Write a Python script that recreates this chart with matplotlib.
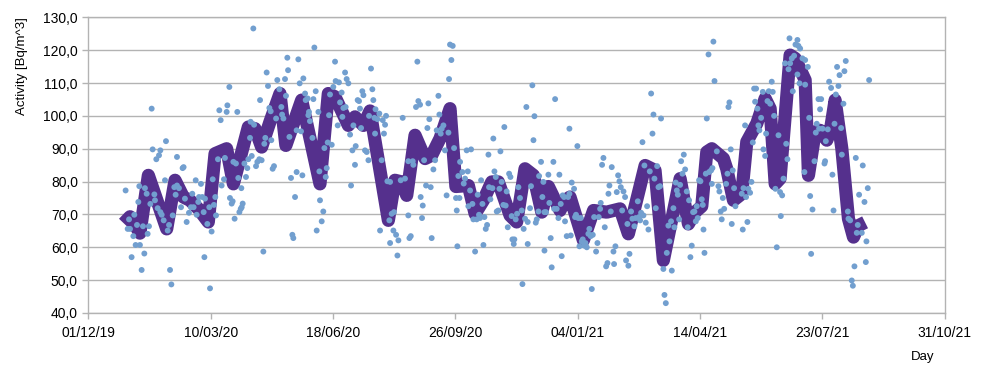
import numpy as np
import pandas as pd
import matplotlib
matplotlib.use("Agg")
import matplotlib.pyplot as plt
import matplotlib.dates as mdates
from matplotlib.ticker import FuncFormatter, MultipleLocator

plt.rcParams["font.family"] = ["Liberation Sans", "DejaVu Sans"]

START = pd.Timestamp("2019-12-01")
END = pd.Timestamp("2021-10-31")

# daily samples: days since 01/12/19 and activity in Bq/m^3
PT_DAY = [
    30.5, 33.3, 32.2, 34.1, 35.4, 36.8, 37.6, 38.7, 42.2, 39.8,
    40.9, 41.7, 43.6, 45.8, 44.7, 46.3, 47.7, 48.5, 49.6, 50.7,
    51.8, 52.6, 54.0, 54.5, 55.6, 56.7, 57.8, 58.9, 58.9, 60.0,
    61.6, 62.7, 63.5, 64.9, 66.0, 66.8, 67.9, 69.0, 70.3, 71.4,
    72.5, 72.5, 74.1, 75.8, 77.1, 77.9, 79.0, 80.4, 82.3, 83.9,
    85.0, 86.1, 87.8, 88.6, 89.9, 90.5, 92.1, 93.2, 94.3, 94.9,
    95.4, 97.3, 98.9, 100.8, 99.5, 101.7, 102.7, 103.8, 104.4, 106.0,
    107.1, 108.2, 109.0, 110.9, 111.7, 113.1, 113.7, 115.3, 115.8, 117.2,
    118.0, 118.6, 119.6, 120.7, 121.8, 122.6, 123.5, 124.6, 125.4, 126.2,
    125.1, 127.6, 128.9, 130.0, 130.8, 132.2, 132.7, 133.6, 134.9, 135.5,
    137.1, 138.2, 139.8, 140.4, 141.7, 143.1, 143.9, 144.7, 145.8, 146.9,
    148.0, 149.1, 149.6, 150.7, 151.8, 153.5, 154.5, 156.2, 157.8, 158.4,
    159.5, 160.8, 161.6, 162.7, 163.3, 164.4,
    171.7, 172.8, 175.8, 177.2, 177.7, 179.3, 180.4, 179.9, 181.2, 183.2,
    185.9, 184.0, 184.8, 188.1, 170.3, 173.9, 170.3, 165.7, 175.0, 169.0,
    166.8, 167.6, 188.9, 189.4, 192.1, 190.8, 186.7, 193.0, 194.1, 194.9,
    195.7, 199.0, 197.6, 196.8, 200.3, 201.7, 202.2, 204.9, 203.9, 205.8,
    207.1, 208.5, 207.7, 209.9, 211.2, 210.4, 212.6, 214.0, 214.8, 216.7,
    215.9, 218.0, 218.6, 220.2, 221.3, 222.1, 223.0, 224.0, 224.9, 226.2,
    227.6, 229.0, 229.5, 231.1, 232.2, 233.0, 233.9, 234.4,
    234.8, 236.3, 237.9, 240.7, 242.6, 243.4, 241.7, 239.8, 244.5, 246.7,
    248.0, 249.9, 246.1, 238.5, 249.4, 246.7, 251.6, 253.5, 252.7, 255.4,
    257.0, 258.9, 261.6, 262.5, 263.6, 261.6, 265.2, 265.7, 267.9, 269.0,
    269.8, 271.2, 271.7, 273.4, 272.8, 274.5, 276.1, 277.2, 278.0, 278.8,
    279.9, 280.7, 282.1, 283.5, 284.8, 286.2, 287.0, 288.1, 288.9, 290.3,
    291.6, 292.9, 294.4, 294.9, 295.7, 297.9, 296.8, 299.0, 300.6, 301.2,
    302.5, 303.4, 301.7, 303.9,
    305.8, 306.9, 308.0, 309.3, 310.2, 312.9, 312.1, 310.7, 314.0, 314.8,
    316.2, 317.5, 318.3, 319.4, 320.2, 321.1, 322.2, 323.0, 323.8, 324.9,
    326.0, 327.1, 327.6, 328.7, 330.3, 331.1, 332.0, 333.1, 333.9, 335.2,
    336.1, 336.9, 337.9, 339.3, 340.1, 341.2, 342.0, 342.9, 344.0, 345.1,
    346.1, 346.7, 348.3, 347.8, 349.4, 350.5, 351.6, 352.9, 354.3, 354.9,
    355.9, 357.0, 358.1, 359.2, 359.2, 361.1, 361.9, 363.0, 363.9, 364.7,
    365.8, 366.6, 368.0, 368.5, 370.1, 371.2, 372.0, 372.9, 372.9,
    374.2, 376.1, 376.9, 378.0, 378.8, 380.2, 380.8, 381.6, 382.9, 384.3,
    385.1, 386.2, 387.0, 387.8, 388.9, 389.7, 391.1, 392.2, 393.3, 393.3,
    394.4, 395.2, 397.1, 397.9, 398.7, 399.8, 400.6, 401.5, 402.6, 403.4,
    404.2, 405.3, 406.4, 407.5, 408.8, 409.6, 410.7, 411.6, 412.4, 413.5,
    415.1, 416.2, 417.3, 418.4, 418.9, 420.0, 421.1, 422.2, 423.3, 424.4,
    425.2, 426.0, 427.1, 427.9, 429.3, 429.8, 430.9, 432.0, 433.1, 434.2,
    435.3, 436.4, 437.5, 438.8, 439.6, 440.7, 441.5, 442.4,
    443.7, 444.8, 446.4, 447.5, 449.2, 450.2, 451.1, 451.9, 453.0, 453.8,
    454.6, 455.7, 456.8, 457.9, 459.0, 460.1, 461.2, 462.0, 462.8, 463.9,
    465.0, 466.1, 467.4, 468.2, 470.1, 471.0, 472.1, 472.9, 474.2, 475.1,
    476.4, 477.0, 478.3, 479.1, 480.2, 481.1, 481.9, 483.0, 483.8, 484.6,
    485.7, 486.8, 487.9, 489.2, 490.0, 491.1, 492.2, 493.3, 494.4, 495.5,
    496.6, 497.4, 498.2, 499.3, 500.4, 501.5, 502.3, 502.9, 503.7, 504.8,
    505.6, 507.0, 507.5, 509.1, 510.2, 511.0, 511.9,
    509.7, 513.8, 515.1, 515.9, 517.0, 518.7, 517.8, 519.8, 521.4, 522.5,
    523.3, 524.1, 525.2, 526.0, 526.8, 527.9, 529.0, 535.0, 534.2, 535.6,
    536.9, 537.7, 538.8, 539.6, 541.0, 542.1, 543.2, 544.3, 545.9, 545.1,
    547.0, 547.8, 548.6, 550.0, 551.4, 551.9, 553.3, 554.1, 555.2, 556.3,
    557.4, 558.7, 559.5, 560.6, 561.7, 562.8, 564.2, 565.5, 566.1, 567.2,
    568.3, 569.6, 570.5, 571.5, 572.4, 573.2, 573.7, 575.1, 575.9, 577.0,
    578.1, 579.7, 580.5, 579.7, 581.4,
    581.9, 583.8, 586.0, 588.2, 586.0, 589.3, 585.4, 590.1, 592.0, 590.9,
    593.6, 595.5, 594.7, 596.9, 599.1, 598.2, 597.4, 600.2, 601.8, 602.3,
    602.9, 604.5, 605.6, 607.2, 608.3, 609.2, 610.0, 611.1, 612.1, 613.2,
    614.1, 615.4, 616.0, 617.3, 618.1, 619.2, 620.9, 621.4, 622.8, 624.1,
    625.0, 626.3, 627.4, 629.0, 628.2, 630.1, 632.3, 633.1, 634.5, 635.6,
    636.1, 637.2, 638.3,
]
PT_VAL = [
    77.3, 68.5, 65.6, 65.6, 57.0, 63.4, 69.9, 60.7, 60.7, 66.8,
    73.8, 78.6, 53.1, 58.1, 66.4, 78.0, 76.3, 64.1, 66.4, 73.2,
    102.2, 89.8, 76.1, 74.3, 86.8, 71.9, 88.0, 89.5, 70.7, 69.9,
    68.2, 80.4, 92.3, 65.1, 66.8, 53.1, 48.7, 69.7, 78.3, 76.0,
    87.5, 78.8, 78.0, 72.2, 84.1, 84.4, 74.8, 67.7, 70.5, 72.2,
    76.3, 72.2, 80.4, 69.9, 73.8, 75.3, 79.3, 75.3, 70.7, 57.0,
    74.8, 67.1, 72.2, 64.8, 47.5, 80.7, 72.9, 75.3, 69.7, 86.8,
    101.7, 98.7, 78.8, 80.7, 87.2, 101.2, 103.2, 108.8, 75.0, 73.3,
    74.0, 86.0, 68.7, 85.5, 101.2, 81.1, 70.7, 71.7, 72.2, 73.3,
    78.0, 85.5, 81.4, 84.1, 86.8, 93.3, 98.2, 87.8, 126.6, 97.3,
    84.7, 86.0, 86.8, 104.8, 86.5, 58.7, 91.5, 93.3, 113.2, 109.1,
    102.4, 101.4, 92.6, 83.9, 84.7, 99.2, 110.9, 108.1, 102.7, 100.4,
    99.2, 111.2, 106.1, 117.7, 113.9, 93.6,
    117.2, 109.9, 111.4, 106.8, 104.8, 105.3, 101.2, 100.2, 98.4, 93.3,
    107.5, 105.1, 120.8, 101.2, 95.6, 95.3, 82.9, 81.1, 81.9, 75.3,
    63.8, 62.8, 83.1, 74.3, 70.9, 67.9, 65.1, 90.2, 81.4, 84.1,
    91.9, 91.2, 106.5, 100.2, 108.8, 116.5, 110.6, 110.2, 97.1, 104.1,
    107.1, 102.4, 99.7, 113.2, 111.2, 102.7, 109.9, 94.3, 78.8, 97.1,
    89.5, 85.1, 90.8, 104.8, 104.5, 102.2, 96.3, 107.5, 106.3, 89.5,
    89.0, 86.5, 100.0, 114.4, 108.1, 104.8, 99.4, 94.6,
    102.0, 99.0, 100.7, 98.7, 97.3, 100.0, 94.6, 86.5, 80.1, 79.9,
    70.2, 70.7, 68.2, 65.1, 65.1, 61.3, 63.8, 62.1, 57.5, 80.4,
    99.4, 80.9, 69.7, 62.8, 63.4, 86.2, 86.2, 85.1, 102.7, 116.5,
    104.5, 103.4, 75.3, 72.7, 68.9, 86.5, 78.8, 96.3, 103.8, 99.0,
    78.3, 62.8, 83.7, 86.5, 95.6, 106.1, 100.4, 94.6, 96.1, 97.1,
    89.5, 75.8, 94.9, 111.2, 121.7, 121.3, 117.0, 90.2, 75.0, 71.2,
    81.7, 75.0, 60.3, 86.0,
    82.9, 79.4, 80.9, 89.5, 83.1, 89.8, 77.3, 72.5, 73.2, 68.5,
    58.7, 68.5, 76.0, 69.9, 68.9, 80.4, 73.2, 60.7, 69.2, 65.6,
    66.8, 88.2, 78.3, 74.6, 78.0, 93.1, 83.1, 81.4, 70.9, 71.2,
    77.8, 89.2, 79.9, 72.9, 96.6, 72.7, 77.0, 66.1, 82.4, 81.4,
    69.5, 62.4, 62.4, 61.0, 68.5, 70.2, 78.3, 75.0, 71.2, 48.8,
    65.6, 68.7, 102.7, 67.7, 61.0, 71.9, 78.6, 109.3, 92.6, 99.9,
    67.5, 68.5, 70.9, 81.7, 86.0, 75.3, 79.9, 70.7, 59.0,
    70.7, 82.1, 73.5, 62.8, 53.9, 86.0, 71.7, 105.1, 71.7, 68.9,
    82.1, 73.2, 57.3, 75.8, 75.3, 67.9, 63.4, 75.3, 96.1, 76.3,
    63.6, 79.7, 77.8, 69.2, 69.9, 90.8, 68.9, 60.3, 68.9, 61.8,
    62.4, 60.5, 61.3, 60.0, 64.1, 65.6, 63.4, 47.3, 63.8, 69.2,
    58.7, 61.3, 69.2, 71.7, 73.5, 85.1, 87.2, 66.1, 54.2, 55.2,
    76.3, 78.8, 70.9, 84.4, 58.7, 54.9, 60.3, 76.8, 81.9, 80.1,
    78.3, 71.2, 77.0, 75.3, 56.0, 67.1, 54.4, 58.0,
    70.9, 68.7, 66.4, 68.9, 74.0, 69.2, 68.2, 70.5, 92.0, 69.7,
    84.9, 67.5, 72.5, 65.4, 83.1, 106.8, 94.6, 100.4, 80.9, 71.9,
    84.7, 78.3, 78.6, 99.2, 53.4, 45.5, 43.0, 58.3, 66.6, 61.8,
    67.9, 52.9, 71.9, 66.1, 79.7, 77.3, 76.0, 68.5, 79.0, 86.2,
    82.4, 88.2, 83.7, 77.0, 66.1, 74.3, 57.0, 60.5, 70.7, 70.9,
    67.9, 72.5, 68.9, 80.4, 80.1, 74.6, 72.9, 65.4, 58.3, 82.4,
    99.2, 118.7, 82.9, 83.4, 84.1, 122.6, 110.6,
    79.3, 89.2, 78.6, 77.0, 70.9, 75.0, 68.5, 71.7, 79.3, 82.4,
    102.7, 104.1, 89.8, 67.1, 83.4, 78.0, 72.5, 65.4, 76.3, 78.0,
    97.1, 75.3, 67.7, 77.8, 76.6, 79.9, 91.9, 108.3, 108.3, 104.3,
    102.2, 97.1, 95.6, 99.4, 107.3, 89.8, 87.8, 94.6, 104.5, 107.5,
    103.7, 110.4, 107.3, 100.0, 77.8, 60.0, 94.1, 76.8, 69.5, 75.8,
    80.9, 116.0, 91.5, 86.8, 114.2, 123.6, 116.0, 117.5, 107.5, 118.3,
    121.7, 123.1, 121.3, 112.6, 109.9,
    120.5, 117.5, 117.0, 114.9, 109.5, 99.4, 82.9, 75.6, 71.5, 58.0,
    86.2, 97.6, 94.9, 105.1, 105.1, 102.0, 96.1, 96.1, 85.5, 86.2,
    92.3, 95.9, 110.4, 108.5, 82.1, 71.2, 97.6, 106.5, 114.9, 109.1,
    112.4, 96.3, 88.2, 103.7, 113.6, 116.7, 70.9, 68.7, 68.2, 49.9,
    48.3, 54.2, 87.2, 66.8, 64.4, 76.0, 64.4, 84.9, 73.8, 55.5,
    61.8, 78.0, 110.9,
]

# smoothed trend (moving average) vertices
LINE_DAY = [
    29, 34.1, 42.2, 49.1, 64.1, 70.9, 77.7, 83.1, 90.0, 98.1,
    103.6, 113.1, 118.6, 130.8, 136.3, 141.7, 148.5, 156.7, 161.5, 174.4,
    189.4, 196.2, 201.7, 212.6, 218.0, 224.9, 230.3, 245.3, 250.7, 256.2,
    260.3, 267.1, 275.3, 280.7, 287.5, 295.7, 300.5, 310.7, 316.2, 323.0,
    329.8, 335.2, 344.8, 350.2, 357.0, 363.9, 370.7, 376.1, 385.6, 389.7,
    393.8, 404.7, 413.0, 423.8, 434.7, 441.5, 455.2, 463.3, 470.1, 483.8,
    490.6, 496.0, 501.5, 505.6, 509.7, 519.2, 521.9, 527.4, 534.2, 538.3,
    546.5, 553.3, 557.4, 561.5, 565.5, 573.7, 577.8, 586.0, 588.7, 594.2,
    598.2, 603.7, 606.4, 610.5, 616.0, 621.4, 625.5, 629.6, 635.0,
]
LINE_VAL = [
    67.3, 69.3, 64.3, 81.9, 65.6, 80.4, 75.3, 74.3, 71.7, 67.7,
    88.5, 90.0, 79.3, 96.6, 96.1, 90.5, 98.2, 106.8, 91.0, 104.8,
    79.3, 106.8, 105.8, 97.1, 99.7, 97.1, 101.5, 68.2, 80.4, 79.9,
    75.8, 94.1, 87.0, 88.0, 93.1, 102.2, 78.5, 78.8, 70.2, 74.3,
    79.9, 79.9, 69.7, 67.7, 83.9, 81.9, 70.7, 78.5, 71.2, 74.3,
    75.3, 62.1, 71.2, 70.7, 71.7, 64.1, 84.9, 83.4, 56.0, 80.9,
    67.1, 70.7, 72.5, 89.0, 90.0, 87.0, 83.9, 74.3, 76.3, 92.1,
    97.7, 105.3, 102.2, 79.3, 80.9, 118.5, 117.5, 110.9, 81.9, 95.1,
    95.6, 92.6, 95.1, 104.8, 90.0, 68.7, 63.1, 66.6, 67.6,
]

assert len(PT_DAY) == len(PT_VAL)
assert len(LINE_DAY) == len(LINE_VAL)

GRID = "#b3b3b3"
C_PTS = "#729fcf"
C_LINE = "#55308d"

pt_x = START + pd.to_timedelta(PT_DAY, unit="D")
line_x = START + pd.to_timedelta(LINE_DAY, unit="D")

fig = plt.figure(figsize=(9.84, 3.9), dpi=100)
ax = fig.add_axes([88.3 / 984, 1 - 313 / 390, (944.6 - 88.3) / 984, (313 - 17.3) / 390])

ax.plot(line_x, LINE_VAL, color=C_LINE, lw=9.5, solid_joinstyle="round",
        solid_capstyle="butt", zorder=2)
ax.scatter(pt_x, PT_VAL, s=18, color=C_PTS, edgecolors="none", zorder=3)

ax.set_xlim(START, END)
ax.set_ylim(40, 130)
ax.yaxis.set_major_locator(MultipleLocator(10))
ax.yaxis.set_major_formatter(FuncFormatter(lambda v, p: f"{v:.1f}".replace(".", ",")))
ax.set_xticks(pd.date_range(START, periods=8, freq="100D"))
ax.xaxis.set_major_formatter(mdates.DateFormatter("%d/%m/%y"))

ax.grid(True, axis="y", color=GRID, lw=1, zorder=0)
for s in ax.spines.values():
    s.set_color(GRID)
    s.set_linewidth(1)
ax.tick_params(axis="both", color=GRID, length=4.5, width=1, labelsize=10,
               labelcolor="black")
ax.tick_params(axis="x", pad=5)
ax.tick_params(axis="y", pad=3)

fig.text(22 / 984, 1 - 17 / 390, "Activity [Bq/m^3]", rotation=90,
         ha="center", va="top", fontsize=9.5)
fig.text(923 / 984, 1 - 357 / 390, "Day", ha="center", va="center", fontsize=9.5)

fig.savefig("out.png", dpi=100)
